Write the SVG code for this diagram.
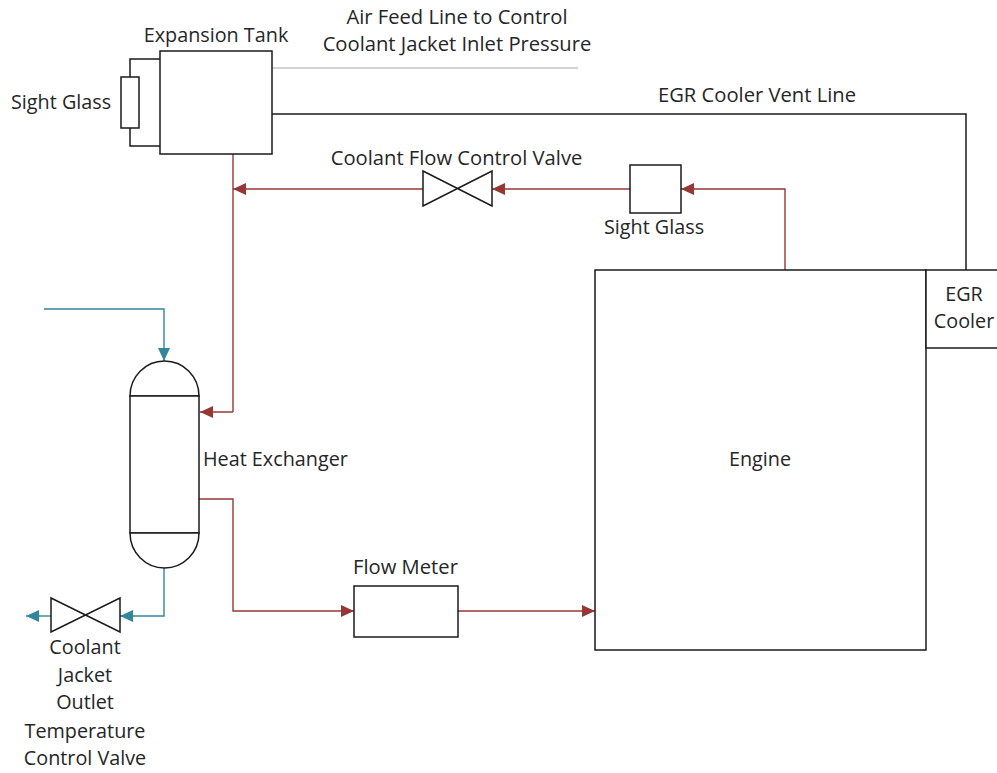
<svg xmlns="http://www.w3.org/2000/svg" width="997" height="773" viewBox="0 0 997 773">
<defs>
<marker id="ar" markerUnits="userSpaceOnUse" markerWidth="14" markerHeight="12" refX="13" refY="6" orient="auto"><path d="M0 0L13 6L0 12Z" fill="#953735"/></marker>
<marker id="at" markerUnits="userSpaceOnUse" markerWidth="14" markerHeight="12" refX="13" refY="6" orient="auto"><path d="M0 0L13 6L0 12Z" fill="#31859c"/></marker>
</defs>
<style>
text{font-family:"Open Sans","Noto Sans","Liberation Sans",sans-serif;font-size:19.8px;fill:#262626}
.w{font-size:20.2px}
.s{fill:#fff;stroke:#1a1a1a;stroke-width:1.5}
.k{fill:none;stroke:#1a1a1a;stroke-width:1.5}
.r{fill:none;stroke:#953735;stroke-width:1.4;marker-end:url(#ar)}
.rn{fill:none;stroke:#953735;stroke-width:1.4}
.t{fill:none;stroke:#31859c;stroke-width:1.4;marker-end:url(#at)}
.m{text-anchor:middle}
</style>
<rect width="997" height="773" fill="#fff"/>
<g id="connectors">
<path class="k" d="M272 68H578" style="stroke:#a6a6a6;stroke-width:1"/>
<path class="k" d="M272 114H966V270"/>
<path class="k" d="M160 59H130V77M130 128V146H160"/>
<path class="rn" d="M233 154V412"/>
<path class="r" d="M233 412H200"/>
<path class="r" d="M423 189H233"/>
<path class="r" d="M630 189H492"/>
<path class="r" d="M785 270V189H681"/>
<path class="r" d="M199 499H233V611H354"/>
<path class="r" d="M458 611H595"/>
<path class="t" d="M44 309H164V361"/>
<path class="t" d="M164 568V616H120"/>
<path class="t" d="M51 616H26"/>
</g>
<g id="expansion-tank"><rect class="s" x="160" y="51" width="112" height="103"/><text class="m" x="216" y="42">Expansion Tank</text></g>
<g id="tank-sight-glass"><rect class="s" x="121" y="77" width="18" height="51"/><text x="11" y="109">Sight Glass</text></g>
<g id="air-feed-label"><text class="m w" x="457" y="24">Air Feed Line to Control</text><text class="m w" x="457" y="51">Coolant Jacket Inlet Pressure</text></g>
<g id="egr-vent-label"><text class="m w" x="757" y="102">EGR Cooler Vent Line</text></g>
<g id="flow-control-valve"><path class="s" d="M423 171L492 206V171L423 206Z"/><text class="m w" x="456.500" y="165">Coolant Flow Control Valve</text></g>
<g id="sight-glass"><rect class="s" x="630" y="165" width="51" height="48"/><text class="m" x="654" y="234">Sight Glass</text></g>
<g id="engine"><rect class="s" x="595" y="270" width="331" height="380"/><text class="m" x="760" y="466">Engine</text></g>
<g id="egr-cooler"><path class="s" d="M997 270H926V348H997"/><text class="m" x="964" y="301">EGR</text><text class="m" x="964" y="328">Cooler</text></g>
<g id="heat-exchanger"><path class="s" d="M130 396A34.500 35 0 0 1 199 396Z"/><rect class="s" x="130" y="396" width="69" height="137"/><path class="s" d="M130 533A34.500 35 0 0 0 199 533Z"/><text x="203" y="466">Heat Exchanger</text></g>
<g id="flow-meter"><rect class="s" x="354" y="586" width="104" height="51"/><text class="m w" x="405.500" y="574">Flow Meter</text></g>
<g id="outlet-valve"><path class="s" d="M51 598L120 632V598L51 632Z"/><text class="m" x="85" y="654">Coolant</text><text class="m" x="85" y="682">Jacket</text><text class="m" x="85" y="709">Outlet</text><text class="m" x="85" y="738">Temperature</text><text class="m" x="85" y="765">Control Valve</text></g>
</svg>
